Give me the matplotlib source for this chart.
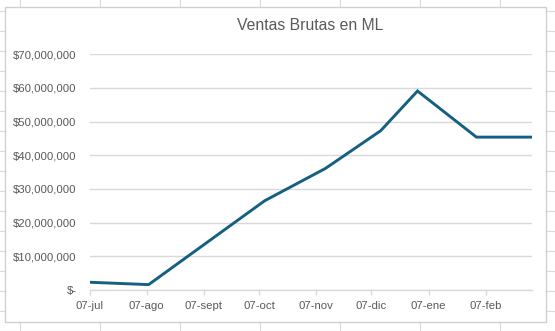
import matplotlib
matplotlib.use("Agg")
import matplotlib.pyplot as plt
import matplotlib.dates as mdates
from matplotlib.patches import Rectangle
from matplotlib.ticker import FuncFormatter, FixedLocator
import datetime as dt

plt.rcParams['font.family'] = ['Liberation Sans Narrow', 'Liberation Sans', 'DejaVu Sans']

# ---- data ----
fechas = ["2024-07-07", "2024-08-08", "2024-10-10", "2024-11-12",
          "2024-12-12", "2025-01-01", "2025-02-02", "2025-03-04"]
ventas = [2.3e6, 1.6e6, 26.5e6, 36.1e6, 47.3e6, 59.1e6, 45.4e6, 45.4e6]
tick_fechas = ["2024-07-07", "2024-08-07", "2024-09-07", "2024-10-07",
               "2024-11-07", "2024-12-07", "2025-01-07", "2025-02-07"]
tick_labels = ["07-jul", "07-ago", "07-sept", "07-oct", "07-nov",
               "07-dic", "07-ene", "07-feb"]
y_ticks = [0, 10e6, 20e6, 30e6, 40e6, 50e6, 60e6, 70e6]
titulo = "Ventas Brutas en ML"

W, H = 555, 331
fig = plt.figure(figsize=(W / 100, H / 100), dpi=100)

# spreadsheet background
bg = fig.add_axes([0, 0, 1, 1])
bg.set_xlim(0, W)
bg.set_ylim(H, 0)
bg.axis('off')
grid_c = '#d9d9d9'
for x in [19.5, 99.5, 179.5, 259.5, 339.5, 419.5, 499.5]:
    bg.plot([x, x], [0, H], color=grid_c, lw=0.8, zorder=0)
for y in range(10, 340, 20):
    bg.plot([0, W], [y + 0.5, y + 0.5], color=grid_c, lw=0.8, zorder=0)
# chart area
bg.add_patch(Rectangle((4.5, 6.5), 541.5, 315, facecolor='white',
                       edgecolor='#d0d0d0', lw=1.0, zorder=2))
bg.text(310, 26, titulo, ha='center', va='center', fontsize=11.3,
        color='#595959', zorder=3)

# plot area
left, right = 89.7, 531.7
top, bottom = 54.3, 290
ax = fig.add_axes([left / W, 1 - bottom / H, (right - left) / W, (bottom - top) / H])
ax.patch.set_alpha(0)

xd = [mdates.date2num(dt.date.fromisoformat(d)) for d in fechas]
xt = [mdates.date2num(dt.date.fromisoformat(d)) for d in tick_fechas]
ax.plot(xd, ventas, color='#156082', lw=2.1, solid_joinstyle='miter', zorder=5)

ax.set_xlim(xd[0], xd[-1])
ax.set_ylim(0, 70e6)
ax.xaxis.set_major_locator(FixedLocator(xt))
ax.set_xticklabels(tick_labels)
ax.yaxis.set_major_locator(FixedLocator(y_ticks))
ax.yaxis.set_major_formatter(FuncFormatter(lambda v, p: "$-" if v == 0 else "${:,.0f}".format(v)))

for s in ['top', 'right', 'left']:
    ax.spines[s].set_visible(False)
ax.spines['bottom'].set_color('#d9d9d9')
ax.spines['bottom'].set_linewidth(1.0)
ax.grid(axis='y', color='#d9d9d9', lw=1.0)
ax.set_axisbelow(True)
ax.tick_params(axis='y', length=0, pad=9.5, labelsize=8.2, labelcolor='#595959')
ax.tick_params(axis='x', length=3.5, width=1.0, color='#d9d9d9', pad=4.5,
               labelsize=8.2, labelcolor='#595959')

fig.savefig("out.png", dpi=100)
